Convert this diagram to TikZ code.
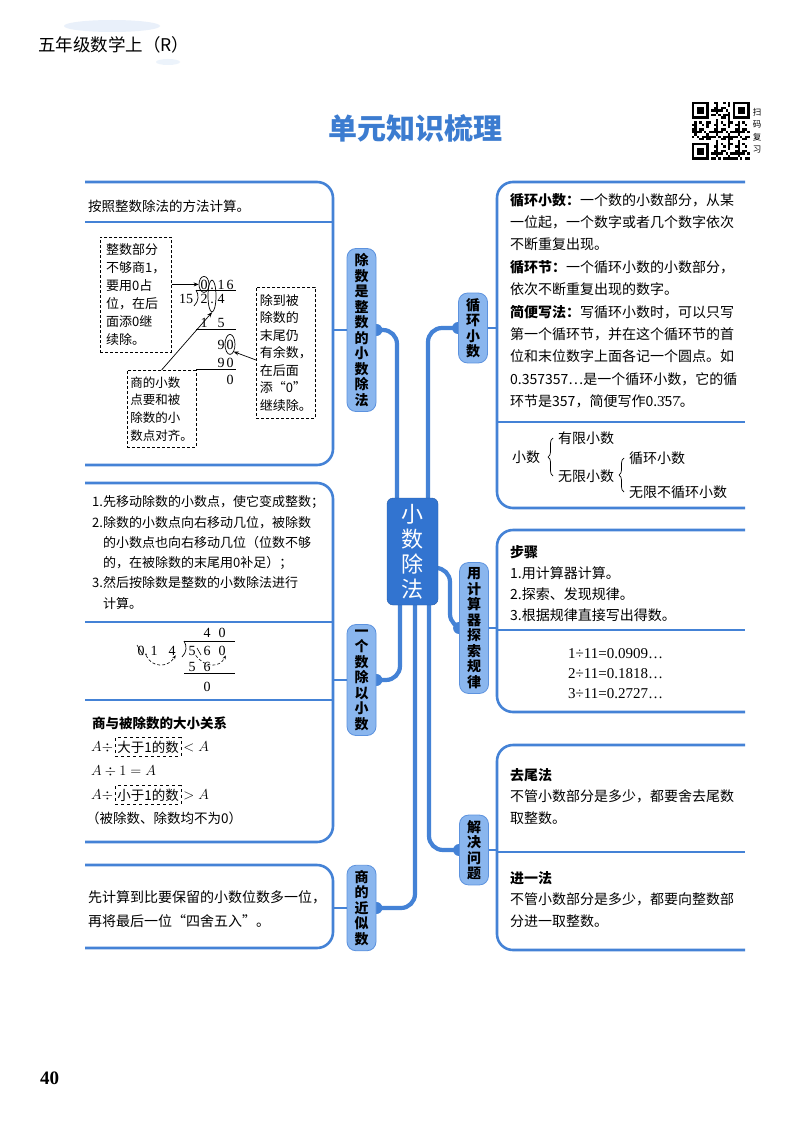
\documentclass[tikz,border=0pt]{standalone}
\usepackage{fontspec}
\setmainfont{Noto Sans CJK SC}
\newfontfamily\numfont{Liberation Serif}
\usetikzlibrary{shapes.geometric,arrows.meta,positioning,backgrounds,decorations.pathreplacing}

\definecolor{lineblue}{RGB}{68,130,214}
\definecolor{nodeblue}{RGB}{138,182,238}
\definecolor{nodeedge}{RGB}{92,146,222}
\definecolor{coreblue}{RGB}{50,116,208}
\definecolor{titleblue}{RGB}{60,124,208}

\newcommand{\fs}[2]{\fontsize{#1}{#2}\selectfont}
\newcommand{\rdot}[1]{{\numfont\fs{15}{22.4}#1^^^^0307}}

\begin{document}
\begin{tikzpicture}[x=1pt, y=-1pt,
    boxline/.style={draw=lineblue, line width=2.6pt, rounded corners=16pt},
    divline/.style={draw=lineblue, line width=2.4pt},
    branch/.style={draw=lineblue, line width=4.2pt, rounded corners=14pt},
    stub/.style={draw=lineblue, line width=2.6pt},
    topic/.style={rectangle, rounded corners=9pt, fill=nodeblue, draw=nodeedge, line width=0.8pt, minimum width=29pt, inner xsep=2pt, inner ysep=5pt, align=center, font=\bfseries\fs{14}{15.5}},
    core/.style={rectangle, rounded corners=6pt, fill=coreblue, draw=coreblue!80!black, minimum width=51pt, minimum height=107pt, align=center, text=white, font=\fs{22}{25}},
    txt/.style={anchor=north west, align=left, inner sep=0pt},
    dbox/.style={draw, densely dashed, line width=0.7pt, anchor=north west, align=left, inner xsep=3pt, font=\fs{13}{18}},
    dashbox/.style={draw, dashed, line width=0.6pt, inner xsep=2pt, inner ysep=3pt, font=\fs{13.5}{16}},
    num/.style={inner sep=0pt, anchor=base, font=\numfont\fs{14}{14}},
    ring/.style={ellipse, draw, line width=0.7pt, inner sep=0pt},
    note/.style={-{Stealth[length=5pt,width=4pt]}, line width=0.7pt},
    hint/.style={-{Stealth[length=4pt,width=3pt]}, densely dashed, line width=0.6pt},
    knob/.style={fill=lineblue},
]
\useasboundingbox (0,0) rectangle (800,1132);

% header
\fill[lineblue!12] (112,26) ellipse (48pt and 6pt);
\fill[lineblue!10] (168,62) ellipse (12pt and 3pt);
\node[anchor=west, inner sep=0pt, font=\fs{17.5}{17.5}] (grade) at (38,45) {五年级数学上（R）};
\node[font=\bfseries\fs{29}{29}, text=titleblue] (title) at (415,128) {单元知识梳理};

% qr code
\foreach \i in {0,...,23}
  \foreach \j in {0,...,23} {
    \pgfmathtruncatemacro\qv{mod(\i*\i*13+\j*\j*7+\i*\j*3+\i*5+\j,9)}
    \ifnum\qv<4 \fill (692+2.4*\i,102+2.4*\j) rectangle ++(2.4,2.4); \fi
  }
\fill[white] (692,102) rectangle ++(19.2,19.2);
\fill[white] (730.4,102) rectangle ++(19.2,19.2);
\fill[white] (692,140.4) rectangle ++(19.2,19.2);
\foreach \qx/\qy in {692/102, 732.8/102, 692/142.8} {
  \fill (\qx,\qy) rectangle ++(16.8,16.8);
  \fill[white] (\qx+2.4,\qy+2.4) rectangle ++(12,12);
  \fill (\qx+4.8,\qy+4.8) rectangle ++(7.2,7.2);
}
\node[align=center, inner sep=0pt, font=\fs{8.5}{12.5}] (scan) at (757,131) {扫\\码\\复\\习};

% frames
\draw[boxline] (85,182) -- (333,182) -- (333,465) -- (85,465);
\draw[divline] (85,222) -- (333,222);
\draw[boxline] (85,483) -- (333,483) -- (333,842) -- (85,842);
\draw[divline] (85,622) -- (333,622);
\draw[divline] (85,700) -- (333,700);
\draw[boxline] (85,865) -- (333,865) -- (333,948) -- (85,948);
\draw[boxline] (745,182) -- (497,182) -- (497,508) -- (745,508);
\draw[divline] (497,422) -- (745,422);
\draw[boxline] (745,530) -- (497,530) -- (497,712) -- (745,712);
\draw[divline] (497,630) -- (745,630);
\draw[boxline] (745,745) -- (497,745) -- (497,950) -- (745,950);
\draw[divline] (497,852) -- (745,852);

\coordinate (a1) at (333,330);
\coordinate (a2) at (333,680);
\coordinate (a3) at (333,908);
\coordinate (b1) at (497,328);
\coordinate (b2) at (497,628);
\coordinate (b3) at (497,850);

% map
\node[core] (hub) at (412.5,551.5) {小\\数\\除\\法};
\node[topic] (t1) at (361.5,330) {除\\数\\是\\整\\数\\的\\小\\数\\除\\法};
\node[topic] (t2) at (361.5,680) {一\\个\\数\\除\\以\\小\\数};
\node[topic] (t3) at (361.5,908) {商\\的\\近\\似\\数};
\node[topic] (t4) at (473,328) {循\\环\\小\\数};
\node[topic] (t5) at (474,628) {用\\计\\算\\器\\探\\索\\规\\律};
\node[topic] (t6) at (474,850) {解\\决\\问\\题};

\begin{scope}[on background layer]
  \fill[white] (0,0) rectangle (800,1132);
  \draw[branch] (397,0 |- hub.north) -- (397,0 |- t1.east) -- (t1.east);
  \draw[branch] (428,0 |- hub.north) -- (428,0 |- t4.west) -- (t4.west);
  \draw[branch] (400,0 |- hub.south) -- (400,0 |- t2.east) -- (t2.east);
  \draw[branch] (415,0 |- hub.south) -- (415,0 |- t3.east) -- (t3.east);
  \draw[branch] (429,0 |- hub.south) -- (429,0 |- t6.west) -- (t6.west);
  \draw[branch] (hub.east |- 0,568) -- (450,568) -- (450,0 |- t5.west) -- (t5.west);
  \foreach \n in {t1.east,t2.east,t3.east,t4.west,t5.west,t6.west}
    \fill[knob] (\n) circle (6pt);
\end{scope}

\draw[stub] (a1) -- (t1.west);
\draw[stub] (a2) -- (t2.west);
\draw[stub] (a3) -- (t3.west);
\draw[stub] (t4.east) -- (b1);
\draw[stub] (t5.east) -- (b2);
\draw[stub] (t6.east) -- (b3);

% left: divisor is a whole number
\node[txt, font=\fs{13.5}{16}] (l1head) at (88,200) {按照整数除法的方法计算。};
\node[dbox, minimum width=71pt, minimum height=115pt] (boxA) at (100,237) {整数部分\\不够商1，\\要用0占\\位，在后\\面添0继\\续除。};
\node[dbox, minimum width=64pt, minimum height=77pt, font=\fs{12.5}{17.7}] (boxB) at (127,370) {商的小数\\点要和被\\除数的小\\数点对齐。};
\node[dbox, minimum width=59pt, minimum height=131pt, font=\fs{13}{17.5}] (boxC) at (256,287) {除到被\\除数的\\末尾仍\\有余数，\\在后面\\添“0”\\继续除。};
\foreach \t/\x/\y [count=\k] in {0/204/289, ./212/289, 1/221/289, 6/230/289,
    15/186/303, 2/204/303, ./212/303, 4/221/303, 1/204/327, 5/221/327,
    9/221/349, 0/230/349, 9/221/367, 0/230/367, 0/230/384}
  \node[num] (v\k) at (\x,\y) {\t};
\draw[line width=0.7pt] (196,290) -- (236,290);
\draw[line width=0.7pt] (196,290) .. controls (199,295) and (199,301) .. (194,306);
\draw[line width=0.7pt] (196,329) -- (236,329);
\draw[line width=0.7pt] (196,369) -- (236,369);
\node[ring, minimum width=10pt, minimum height=16pt] (r1) at (v1.center) {};
\node[ring, minimum width=8pt, minimum height=32pt] (r2) at (212,296) {};
\node[ring, minimum width=10pt, minimum height=20pt] (r3) at (v12.center) {};
\draw[note] (boxA.east |- r1) -- (r1.west);
\draw[note] (boxB.north) -- (r2.south);
\draw[note] (boxC.west |- 0,360) -- (r3.south east);

% left: dividing by a decimal
\node[txt, font=\fs{13}{20.3}] (l2text) at (92,495.5) {1.先移动除数的小数点，使它变成整数；\\2.除数的小数点向右移动几位，被除数\\\hspace*{11pt}的小数点也向右移动几位（位数不够\\\hspace*{11pt}的，在被除数的末尾用0补足）；\\3.然后按除数是整数的小数除法进行\\\hspace*{11pt}计算。};
\foreach \t/\x/\y [count=\k] in {4/207/637, 0/222/637,
    0/141/655, ./146/655, 1/154/655, 4/172/655, 5/192/655, 6/207/655, 0/222/655,
    5/192/671, 6/207/671, 0/207/691}
  \node[num] (w\k) at (\x,\y) {\t};
\draw[line width=0.7pt] (184,641) -- (235,641);
\draw[line width=0.7pt] (184,641) .. controls (187,646) and (187,652) .. (182,657);
\draw[line width=0.7pt] (184,673) -- (235,673);
\draw[line width=0.6pt] (137,645) -- (143,655);
\draw[line width=0.6pt] (197,648) -- (201,655);
\draw[hint] (w4.south) .. controls (152,668) and (168,668) .. (w6.south east);
\draw[hint] (w7.south east) .. controls (205,668) and (220,668) .. (w9.south east);

\node[anchor=west, inner sep=0pt, font=\bfseries\fs{13.5}{16}] (rel) at (92,723) {商与被除数的大小关系};
\node[anchor=west, inner sep=0pt, font=\fs{14}{16}] (ra1) at (91,747) {$A\div$};
\node[dashbox, right=2pt of ra1] (ra2) {大于1的数};
\node[right=2pt of ra2, inner sep=0pt, font=\fs{14}{16}] (ra3) {$<A$};
\node[anchor=west, inner sep=0pt, font=\fs{14}{16}] (rb1) at (91,771) {$A\div 1=A$};
\node[anchor=west, inner sep=0pt, font=\fs{14}{16}] (rc1) at (91,795) {$A\div$};
\node[dashbox, right=2pt of rc1] (rc2) {小于1的数};
\node[right=2pt of rc2, inner sep=0pt, font=\fs{14}{16}] (rc3) {$>A$};
\node[anchor=west, inner sep=0pt, font=\fs{13.5}{16}] (rd1) at (86,818) {（被除数、除数均不为0）};

% left: approximate quotient
\node[txt, font=\fs{14}{24}] (l3text) at (88,890) {先计算到比要保留的小数位数多一位，\\再将最后一位“四舍五入”。};

% right: repeating decimals
\node[txt, font=\fs{14}{22.4}] (r1text) at (510,193) {\textbf{循环小数：}一个数的小数部分，从某\\一位起，一个数字或者几个数字依次\\不断重复出现。\\\textbf{循环节：}一个循环小数的小数部分，\\依次不断重复出现的数字。\\\textbf{简便写法：}写循环小数时，可以只写\\第一个循环节，并在这个循环节的首\\位和末位数字上面各记一个圆点。如\\0.357357…是一个循环小数，它的循\\环节是357，简便写作0.\rdot{3}5\rdot{7}。};
\node[anchor=west, inner sep=0pt, font=\fs{14}{16}] (xs) at (512,457) {小数};
\node[anchor=west, inner sep=0pt, font=\fs{14}{16}] (yx) at (558,438) {有限小数};
\node[anchor=west, inner sep=0pt, font=\fs{14}{16}] (wx) at (558,476) {无限小数};
\node[anchor=west, inner sep=0pt, font=\fs{14}{16}] (xh) at (629,458) {循环小数};
\node[anchor=west, inner sep=0pt, font=\fs{14}{16}] (wb) at (629,492) {无限不循环小数};
\draw[line width=0.7pt, decorate, decoration={brace, amplitude=5pt}] (553,0 |- wx.west) -- (553,0 |- yx.west);
\draw[line width=0.7pt, decorate, decoration={brace, amplitude=5pt}] (624,0 |- wb.west) -- (624,0 |- xh.west);

% right: calculator
\node[txt, font=\fs{14}{21}] (r2text) at (510,545) {\textbf{步骤}\\1.用计算器计算。\\2.探索、发现规律。\\3.根据规律直接写出得数。};
\node[txt, font=\numfont\fs{15}{20}] (r2calc) at (568,648) {1÷11=0.0909…\\2÷11=0.1818…\\3÷11=0.2727…};

% right: solving problems
\node[txt, font=\fs{14}{21.5}] (r3text) at (510,768) {\textbf{去尾法}\\不管小数部分是多少，都要舍去尾数\\取整数。};
\node[txt, font=\fs{14}{21.5}] (r3more) at (510,871) {\textbf{进一法}\\不管小数部分是多少，都要向整数部\\分进一取整数。};

\node[anchor=west, inner sep=0pt, font=\numfont\bfseries\fs{19}{19}] (page) at (40,1078) {40};
\end{tikzpicture}
\end{document}
